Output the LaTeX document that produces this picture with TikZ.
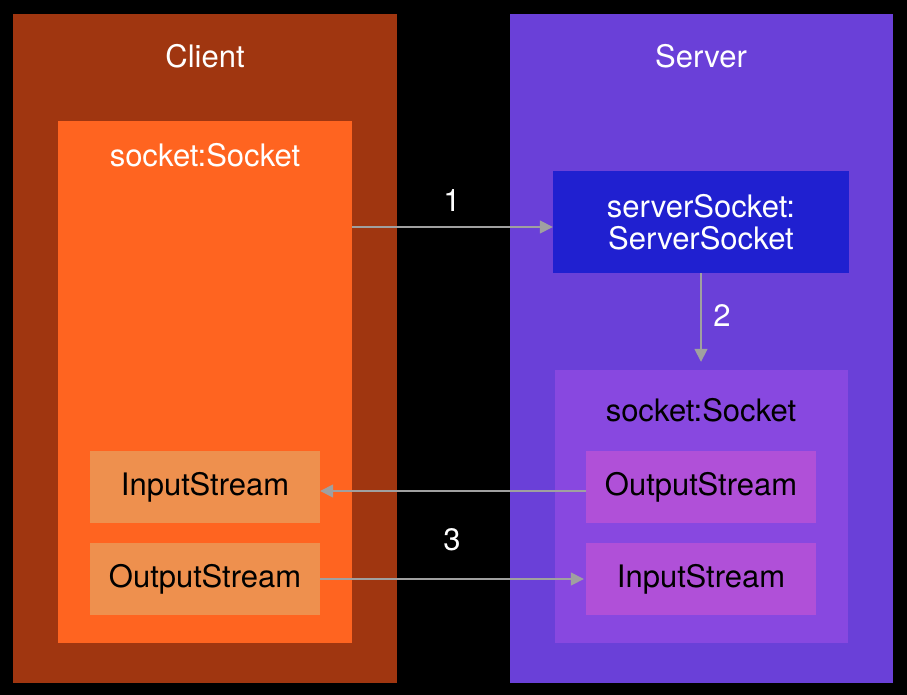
\documentclass[tikz,border=0pt]{standalone}
\usepackage{fontspec}
\setmainfont{TeX Gyre Heros}
\usetikzlibrary{arrows.meta}
\definecolor{clientbg}{RGB}{160,54,16}
\definecolor{clientsock}{RGB}{255,100,32}
\definecolor{clientstream}{RGB}{238,144,78}
\definecolor{serverbg}{RGB}{106,64,216}
\definecolor{serversock}{RGB}{32,32,208}
\definecolor{serversocket}{RGB}{136,72,224}
\definecolor{serverstream}{RGB}{176,80,216}
\definecolor{linkgray}{RGB}{160,160,160}
\begin{document}
\begin{tikzpicture}[x=1pt,y=-1pt,
    every node/.style={font=\fontsize{31}{36}\selectfont},
    frame/.style={rectangle,inner sep=0pt,draw=none},
    streambox/.style={frame,minimum width=230pt,minimum height=72pt},
    link/.style={draw=linkgray,line width=1.6pt,-{Triangle[length=13pt,width=13pt]}}]
            \fill[black] (0,0) rectangle (907,695);
            % containers
            \node[frame,fill=clientbg,minimum width=384pt,minimum height=669pt] (client) at (205,348.5) {};
            \node[frame,fill=serverbg,minimum width=383pt,minimum height=669pt] (server) at (701.5,348.5) {};
            \node[frame,fill=clientsock,minimum width=294pt,minimum height=522pt] (csock) at (205,382) {};
            \node[frame,fill=serversocket,minimum width=293pt,minimum height=273pt] (ssock) at (701.5,506.5) {};
            \node[frame,fill=serversock,minimum width=296pt,minimum height=102pt,text=white,align=center] (listener) at (701,222) {serverSocket:\\[-4pt]ServerSocket};
            % titles
            \node[text=white] (clienttitle) at (205,56) {Client};
            \node[text=white] (servertitle) at (701,56) {Server};
            \node[text=white] (csocktitle) at (205,155) {socket:Socket};
            \node[text=black] (ssocktitle) at (701,410) {socket:Socket};
            % streams
            \node[streambox,fill=clientstream] (cin) at (205,487) {InputStream};
            \node[streambox,fill=clientstream] (cout) at (205,579) {OutputStream};
            \node[streambox,fill=serverstream] (sout) at (701,487) {OutputStream};
            \node[streambox,fill=serverstream] (sin) at (701,579) {InputStream};
            % connections
            \draw[link] ([yshift=-5pt]csock.east |- listener.west) -- ([yshift=-5pt]listener.west);
            \draw[link,shorten >=8pt] (listener.south) -- (ssock.north -| listener.south);
            \draw[link] ([yshift=-4pt]sout.west) -- ([yshift=-4pt]cin.east);
            \draw[link] (cout.east) -- ([xshift=-2pt]sin.west);
            \node[text=white] (one) at (452,201) {1};
            \node[text=white] (two) at (722,316) {2};
            \node[text=white] (three) at (452,540) {3};
        \end{tikzpicture}
\end{document}
